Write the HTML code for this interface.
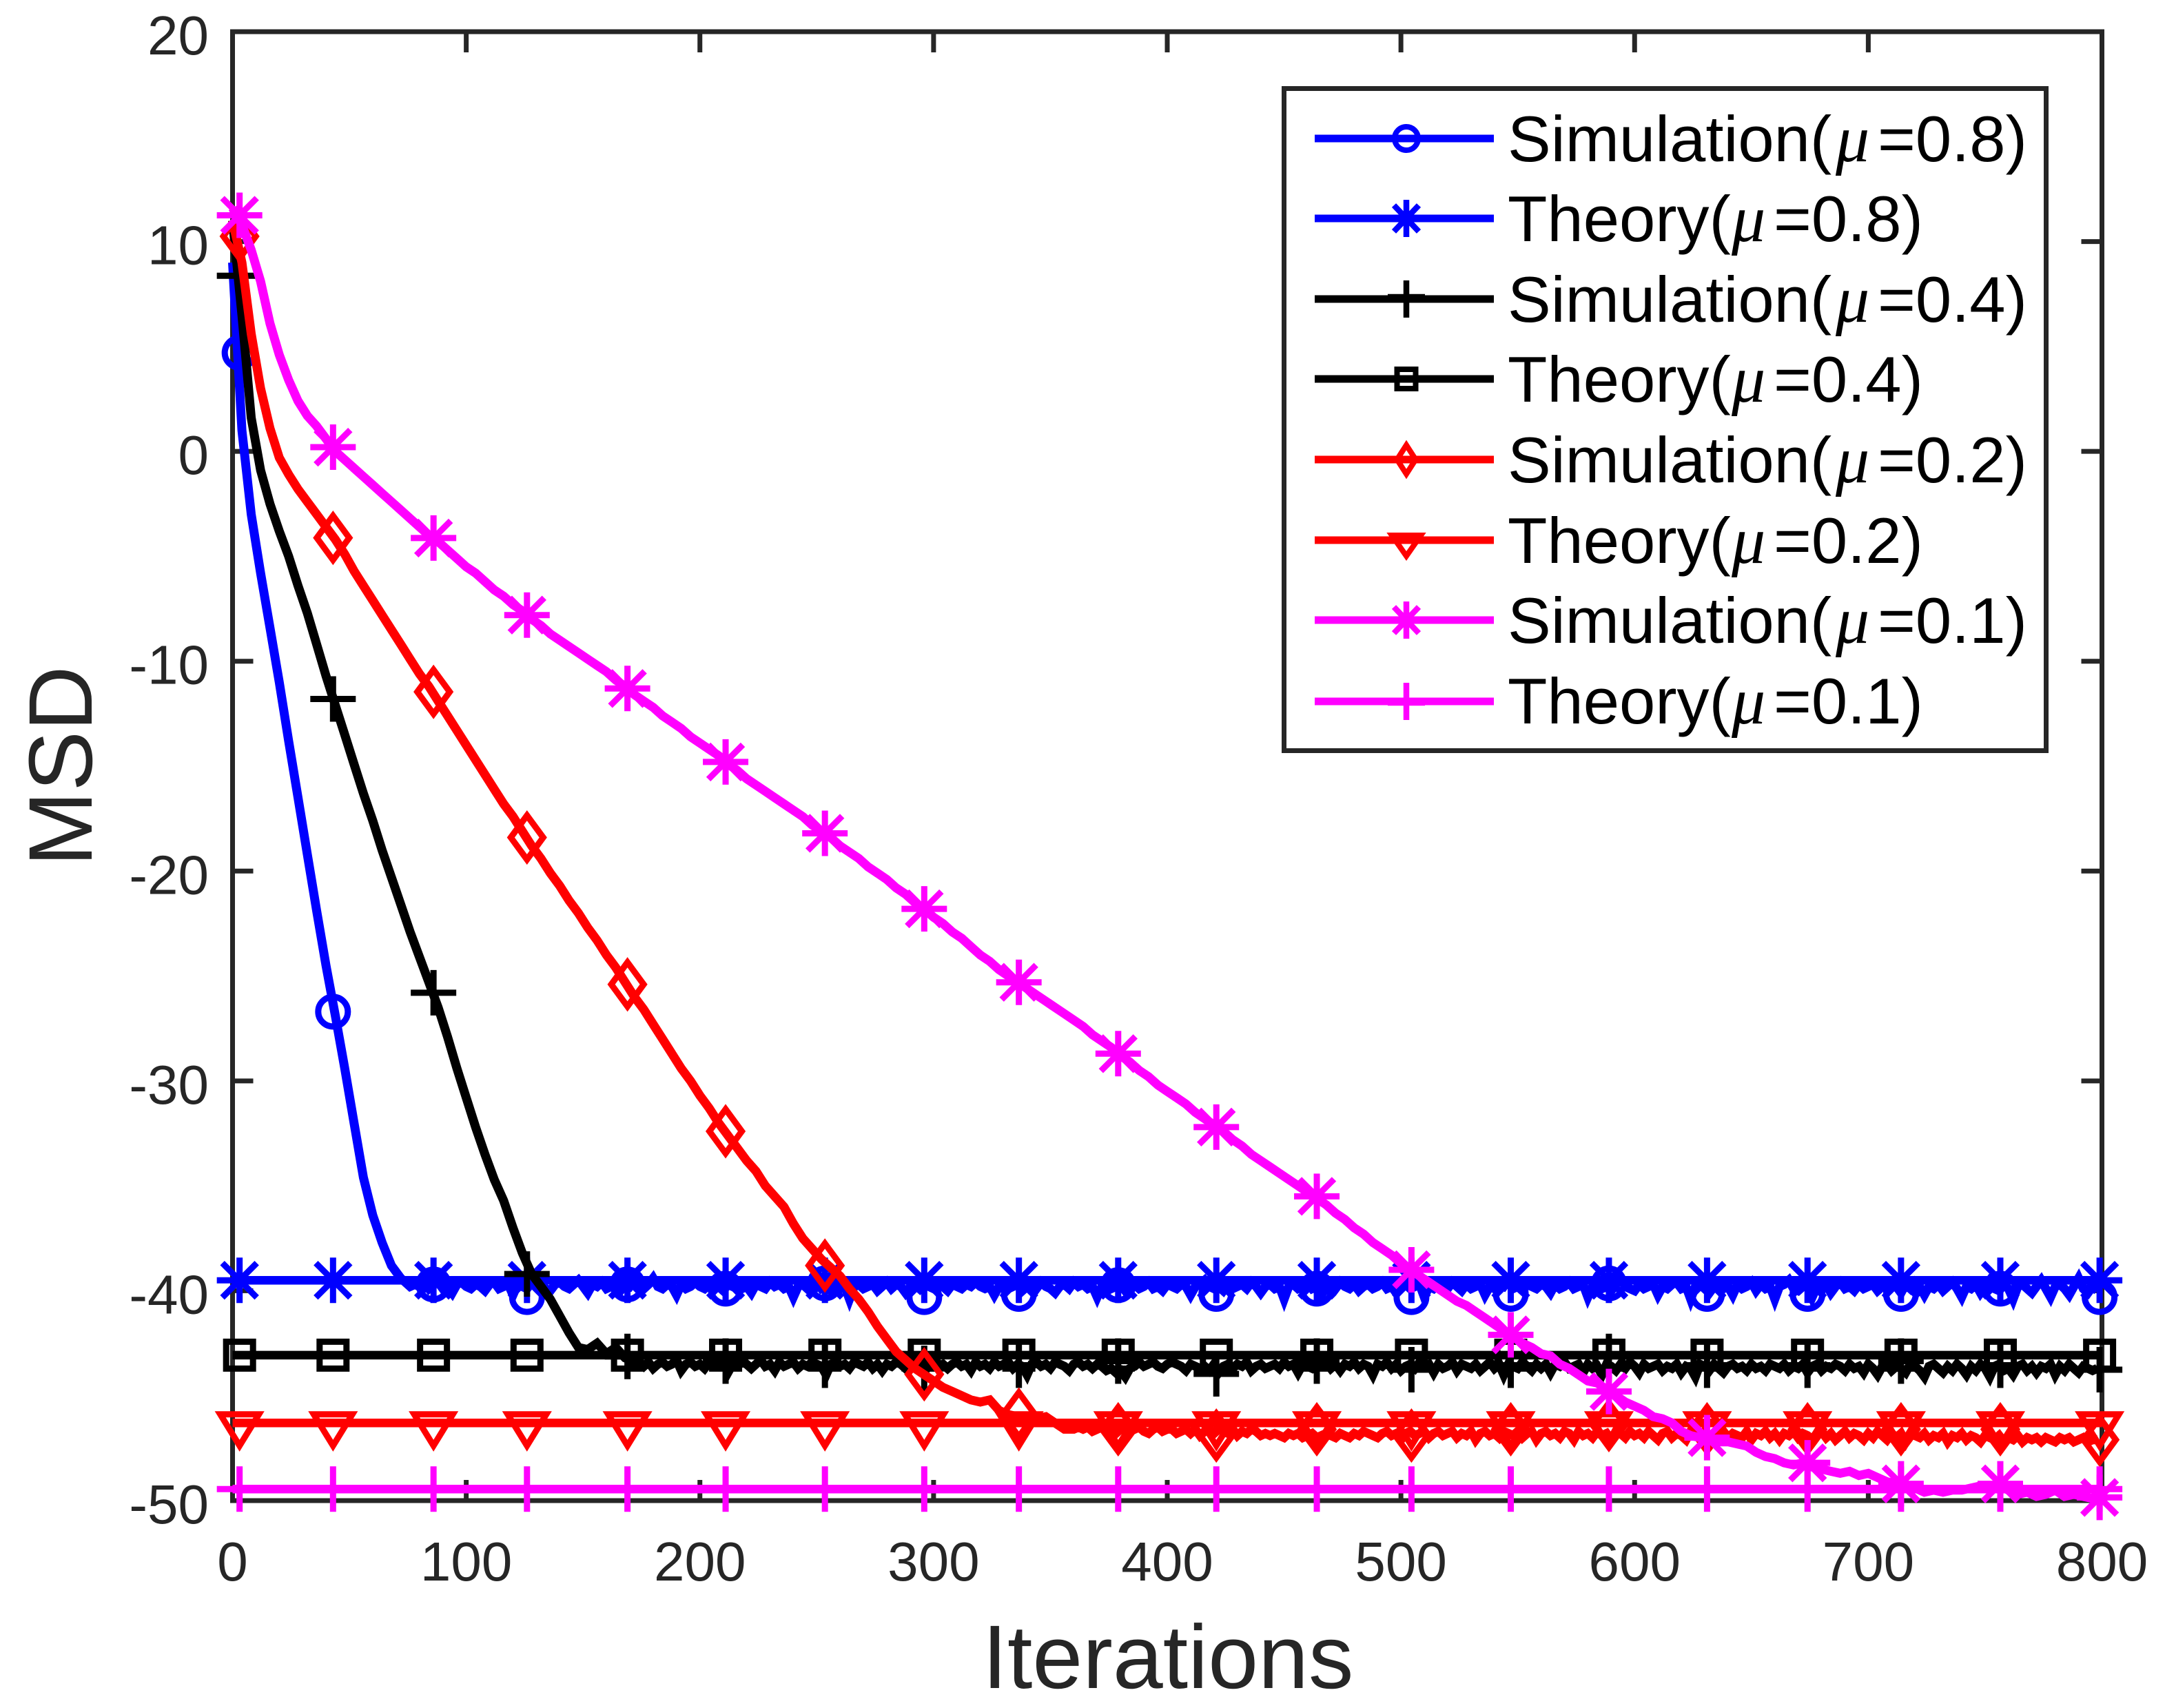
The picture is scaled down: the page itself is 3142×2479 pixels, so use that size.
<!DOCTYPE html>
<html lang="en">
<head>
<meta charset="utf-8">
<title>MSD vs Iterations</title>
<style>
html,body{margin:0;padding:0;background:#fff;}
svg{display:block;}
text{font-family:"Liberation Sans",sans-serif;}
.leg{font-size:94px;fill:#000;}
.mu{font-family:"Liberation Serif",serif;font-style:italic;font-size:98px;}
</style>
</head>
<body>
<svg id="chart" xmlns="http://www.w3.org/2000/svg" width="3142" height="2479" viewBox="0 0 3142 2479">
  <rect x="0" y="0" width="3142" height="2479" fill="#fff"/>
  <g id="axes"></g>
  <g id="series"></g>
  <text x="1695" y="2450" font-size="131" fill="#262626" text-anchor="middle">Iterations</text>
  <text transform="translate(133 1112) rotate(-90)" font-size="131" fill="#262626" text-anchor="middle">MSD</text>
  <g>
    <rect x="1863.5" y="128.5" width="1106" height="961" fill="#fff" stroke="#262626" stroke-width="7"/>
    <g fill="none" stroke="#0000ff">
      <line x1="1908" x2="2168" y1="201" y2="201" stroke-width="11"/>
      <circle cx="2041" cy="201" r="17" stroke-width="8"/>
    </g>
    <text class="leg" y="234"><tspan x="2188">Simulation(</tspan><tspan x="2664" class="mu">μ</tspan><tspan x="2725">=0.8)</tspan></text>
    <g fill="none" stroke="#0000ff">
      <line x1="1908" x2="2168" y1="317" y2="317" stroke-width="11"/>
      <path d="M2041 290V344M2023 298L2059 336M2059 298L2023 336" stroke-width="8.5"/>
    </g>
    <text class="leg" y="350"><tspan x="2188">Theory(</tspan><tspan x="2513" class="mu">μ</tspan><tspan x="2574">=0.8)</tspan></text>
    <g fill="none" stroke="#000">
      <line x1="1908" x2="2168" y1="434" y2="434" stroke-width="11"/>
      <path d="M2041 407V461M2014 431H2068" stroke-width="8.5"/>
    </g>
    <text class="leg" y="467"><tspan x="2188">Simulation(</tspan><tspan x="2664" class="mu">μ</tspan><tspan x="2725">=0.4)</tspan></text>
    <g fill="none" stroke="#000">
      <line x1="1908" x2="2168" y1="550" y2="550" stroke-width="11"/>
      <rect x="2027.5" y="536" width="27" height="28" stroke-width="8"/>
    </g>
    <text class="leg" y="583"><tspan x="2188">Theory(</tspan><tspan x="2513" class="mu">μ</tspan><tspan x="2574">=0.4)</tspan></text>
    <g fill="none" stroke="#ff0000">
      <line x1="1908" x2="2168" y1="667" y2="667" stroke-width="11"/>
      <path d="M2041 646L2054.5 667L2041 688L2027.5 667Z" stroke-width="8"/>
    </g>
    <text class="leg" y="700"><tspan x="2188">Simulation(</tspan><tspan x="2664" class="mu">μ</tspan><tspan x="2725">=0.2)</tspan></text>
    <g fill="none" stroke="#ff0000">
      <line x1="1908" x2="2168" y1="784" y2="784" stroke-width="11"/>
      <path d="M2020 777H2062L2041 807Z" stroke-width="8"/>
    </g>
    <text class="leg" y="817"><tspan x="2188">Theory(</tspan><tspan x="2513" class="mu">μ</tspan><tspan x="2574">=0.2)</tspan></text>
    <g fill="none" stroke="#ff00ff">
      <line x1="1908" x2="2168" y1="900" y2="900" stroke-width="11"/>
      <path d="M2041 873V927M2023 881L2059 919M2059 881L2023 919" stroke-width="8.5"/>
    </g>
    <text class="leg" y="933"><tspan x="2188">Simulation(</tspan><tspan x="2664" class="mu">μ</tspan><tspan x="2725">=0.1)</tspan></text>
    <g fill="none" stroke="#ff00ff">
      <line x1="1908" x2="2168" y1="1018" y2="1018" stroke-width="11"/>
      <path d="M2041 991V1045M2014 1020H2068" stroke-width="8.5"/>
    </g>
    <text class="leg" y="1050"><tspan x="2188">Theory(</tspan><tspan x="2513" class="mu">μ</tspan><tspan x="2574">=0.1)</tspan></text>
  </g>
</svg>
<script>
const xTickValues = [0,100,200,300,400,500,600,700,800];
const yTickValues = [20,10,0,-10,-20,-30,-40,-50];
const rampStep = 4;
const tailStep = 2;
const markerIters = [3,43,86,126,169,211,253.5,296,336.5,379,421,464,504.5,547,589,631,674,714,756.5,799];

const theoryLevel08 = -39.5;
const theoryLevel04 = -43.07;
const theoryLevel02 = -46.3;
const theoryLevel01 = -49.45;

const simMarkers08 = [4.7,-26.7,-39.7,-40.3,-39.7,-39.9,-39.65,-40.3,-40.15,-39.73,-40.15,-39.9,-40.3,-40.15,-39.65,-40.15,-40.15,-40.15,-39.9,-40.3];
const simMarkers04 = [8.37,-11.8,-25.8,-39.2,-43.13,-43.35,-43.55,-43.7,-43.55,-43.35,-43.96,-43.35,-43.76,-43.55,-43.13,-43.55,-43.55,-43.35,-43.55,-43.76];
const simMarkers02 = [10.25,-4.12,-11.46,-18.4,-25.4,-32.4,-38.8,-43.98,-45.9,-46.6,-46.9,-46.6,-46.9,-46.6,-46.4,-46.6,-46.6,-46.6,-46.6,-47.1];
const simMarkers01 = [11.25,0.2,-4.13,-7.8,-11.3,-14.8,-18.2,-21.8,-25.3,-28.7,-32.2,-35.5,-39,-42.1,-44.8,-47,-48.2,-49.2,-49.2,-49.85];

const simRamp08 = [
9,1,-3,-5.8,-8.4,-11,-13.8,-16.5,-19.2,-21.9,
-24.5,-26.9,-29.4,-32,-34.6,-36.4,-37.7,-38.8,-39.4,-39.8
];
const simTail08 = [
-39.7,-39.8,-39.6,-39.9,-39.7,-39.6,-39.9,-39.8,-40.1,-39.7,-39.6,-39.8,-39.9,-39.7,-39.8,-40.0,-39.7,-39.6,-39.9,-39.8,
-39.7,-40.2,-39.7,-39.8,-39.9,-39.6,-39.8,-39.7,-39.9,-40.0,-39.7,-39.6,-39.8,-39.9,-39.7,-39.5,-39.8,-40.1,-39.7,-39.8,
-39.6,-39.9,-39.8,-39.7,-40.0,-39.7,-39.8,-39.5,-39.8,-39.9,-39.7,-39.4,-39.8,-39.9,-39.7,-39.8,-40.2,-39.7,-39.9,-39.8,
-39.6,-39.8,-39.9,-39.7,-39.5,-39.8,-40.0,-39.7,-39.8,-39.6,-39.9,-39.8,-40.1,-39.7,-39.8,-39.9,-39.6,-39.8,-39.7,-39.9,
-39.8,-40.3,-39.8,-39.7,-39.9,-39.8,-39.6,-39.9,-39.8,-40.0,-39.7,-39.9,-39.8,-40.4,-39.8,-39.7,-39.9,-39.8,-39.7,-40.0,
-39.8,-39.6,-39.9,-39.7,-39.8,-40.1,-39.8,-39.7,-39.9,-39.6,-39.8,-39.9,-39.7,-39.8,-40.0,-39.7,-39.8,-39.9,-39.7,-39.8,
-39.6,-39.8,-39.9,-39.8,-40.2,-39.8,-39.7,-39.9,-39.8,-39.7,-40.0,-39.8,-39.7,-39.9,-39.6,-39.8,-39.9,-40.1,-39.8,-39.7,
-39.9,-39.6,-39.8,-39.7,-39.9,-39.8,-40.3,-39.8,-39.7,-39.9,-39.8,-39.7,-40.0,-39.8,-39.7,-39.9,-39.8,-39.6,-39.9,-39.8,
-40.0,-39.7,-39.8,-39.9,-39.7,-39.8,-40.2,-39.8,-39.7,-39.5,-39.8,-39.9,-39.8,-40.0,-39.7,-39.9,-39.8,-39.7,-39.9,-39.6,
-39.8,-40.1,-39.8,-39.7,-39.9,-39.8,-40.4,-39.8,-39.7,-39.9,-39.8,-39.6,-39.9,-39.8,-40.2,-39.8,-39.7,-39.9,-39.6,-39.8,
-39.9,-39.7,-40.0,-39.8,-39.7,-39.9,-39.8,-39.6,-39.9,-39.8,-40.1,-39.8,-39.7,-39.9,-39.8,-39.7,-40.3,-39.8,-39.9,-39.7,
-39.8,-39.9,-39.6,-39.8,-40.0,-39.7,-39.9,-39.8,-39.7,-40.2,-39.8,-39.9,-39.7,-39.8,-39.5,-39.9,-39.8,-40.0,-39.7,-39.8,
-39.9,-39.7,-39.8,-40.1,-39.7,-39.9,-39.8,-39.6,-39.9,-39.8,-39.7,-40.3,-39.8,-39.7,-39.9,-39.8,-40.0,-39.7,-39.4,-39.8,
-39.9,-40.0,-39.7,-39.9,-39.8,-39.7,-40.2,-39.8,-39.9,-39.7,-39.6,-39.9,-39.8,-40.4,-39.8,-39.7,-39.9,-40.1,-39.8,-39.6,
-39.9,-39.8,-40.2,-39.7,-39.9,-39.8,-39.6,-40.0,-39.7,-39.9,-39.8,-40.4,-39.8,-39.7,-39.5,-39.9,-40.0,-39.8,-39.7,-40.3,
-39.8,-39.9,-39.7,-40.1,-39.8,-39.6,-39.9,-39.8,-40.0,-39.7,-39.9,-39.8,-39.7,-40.0,-39.8,-39.9,-39.7,-39.8,-40.1,-39.7,
-39.9,-39.6,-39.8,-40.2,-39.8,-39.9,-39.7,-40.0,-39.8,-39.6,-39.9,-40.3,-39.8,-39.9,-39.7,-40.1,-39.8,-39.5,-39.9,-40.0,
-39.7,-39.9,-40.4,-39.8,-39.7,-39.9,-40.1,-39.8,-39.5,-39.9,-40.3,-39.8,-39.7,-39.9,-40.2,-39.8,-39.4,-39.9,-40.1,-39.8,
-40.0
];

const simRamp04 = [
11,6.5,1.6,-0.9,-2.5,-3.8,-5,-6.4,-7.7,-9.2,
-10.7,-12.1,-13.5,-14.9,-16.3,-17.6,-19,-20.3,-21.6,-22.9,
-24.1,-25.3,-26.5,-27.9,-29.4,-30.8,-32.2,-33.5,-34.7,-35.7,
-37,-38.2,-39.2,-39.8,-40.4,-41.2,-42,-42.7,-42.8,-42.5,
-43,-42.7,-43.2
];
const simTail04 = [
-43.3,-43.5,-43.4,-43.6,-43.4,-43.7,-43.5,-43.4,-43.6,-43.5,-43.3,-43.8,-43.5,-43.4,-43.6,-43.5,-43.7,-43.4,-43.5,-43.6,
-43.4,-43.9,-43.5,-43.6,-43.4,-43.5,-43.7,-43.5,-43.3,-43.6,-43.5,-43.8,-43.4,-43.6,-43.5,-43.4,-43.7,-43.5,-43.6,-43.4,
-43.5,-43.6,-44.0,-43.5,-43.4,-43.6,-43.5,-43.7,-43.4,-43.5,-43.6,-43.4,-43.7,-43.5,-43.8,-43.5,-43.6,-43.4,-43.5,-43.7,
-43.5,-43.4,-43.6,-43.9,-43.5,-43.4,-43.6,-43.5,-43.7,-43.5,-43.4,-43.6,-43.5,-43.8,-43.4,-43.6,-43.5,-43.7,-43.4,-43.6,
-43.5,-43.4,-43.7,-43.5,-43.6,-44.0,-43.5,-43.4,-43.6,-43.5,-43.7,-43.4,-43.5,-43.6,-43.8,-43.5,-43.4,-43.6,-43.5,-43.7,
-43.5,-43.6,-43.8,-43.7,-43.9,-43.8,-44.1,-43.7,-43.6,-43.4,-43.6,-43.5,-43.4,-43.6,-43.7,-43.5,-43.4,-43.5,-43.6,-43.8,
-43.5,-43.6,-43.7,-43.6,-43.8,-43.5,-43.9,-43.6,-43.5,-43.7,-43.5,-43.6,-43.4,-43.8,-43.6,-43.5,-43.7,-43.6,-43.5,-43.7,
-43.4,-43.6,-43.5,-43.9,-43.5,-43.6,-43.7,-43.5,-43.6,-43.4,-43.7,-43.5,-43.8,-43.5,-43.6,-43.4,-43.7,-43.5,-43.6,-44.0,
-43.5,-43.6,-43.4,-43.7,-43.5,-43.8,-43.6,-43.5,-43.7,-43.4,-43.6,-43.5,-43.9,-43.5,-43.7,-43.6,-43.4,-43.8,-43.5,-43.6,
-43.7,-43.5,-43.8,-43.6,-43.4,-43.7,-43.5,-44.0,-43.5,-43.6,-43.7,-43.4,-43.6,-43.8,-43.5,-43.7,-43.5,-43.9,-43.5,-43.6,
-43.4,-43.7,-43.6,-43.5,-43.9,-43.5,-43.7,-43.6,-44.0,-43.5,-43.6,-43.8,-43.5,-43.7,-43.4,-43.6,-43.9,-43.5,-43.7,-43.6,
-43.5,-43.8,-43.6,-43.7,-43.5,-43.9,-43.6,-43.7,-44.1,-43.5,-43.6,-43.8,-43.5,-43.7,-43.9,-43.6,-43.5,-43.7,-43.6,-43.8,
-43.5,-43.7,-43.6,-43.8,-43.5,-43.6,-43.7,-43.5,-43.8,-43.6,-43.7,-43.5,-43.9,-43.6,-43.5,-43.8,-43.6,-43.7,-43.5,-43.6,
-43.8,-43.5,-43.7,-43.6,-43.9,-43.5,-43.7,-44.0,-43.6,-43.5,-43.8,-43.6,-43.7,-43.9,-43.5,-43.6,-43.8,-44.1,-43.6,-43.5,
-43.7,-43.9,-43.6,-43.8,-43.5,-43.7,-44.0,-43.6,-43.8,-43.5,-43.7,-44.1,-43.6,-43.5,-43.8,-43.7,-44.0,-43.6,-43.5,-43.8,
-43.6,-43.9,-43.6,-43.7,-43.5,-44.0,-43.6,-43.8,-43.5,-43.7,-43.9,-43.6,-43.7,-43.8,-43.7
];

const simRamp02 = [
11,9,5.6,3,1.1,-0.3,-1.1,-1.8,-2.4,-3,
-3.6,-4.2,-4.9,-5.7,-6.4,-7.1,-7.8,-8.5,-9.2,-9.9,
-10.6,-11.2,-11.9,-12.6,-13.3,-14,-14.7,-15.4,-16.1,-16.8,
-17.4,-18.1,-18.8,-19.4,-20.1,-20.7,-21.4,-22,-22.7,-23.3,
-24,-24.6,-25.3,-26,-26.6,-27.3,-28,-28.7,-29.4,-30,
-30.7,-31.3,-32,-32.6,-33.2,-33.8,-34.3,-35,-35.5,-36,
-36.8,-37.5,-38,-38.5,-38.9,-39.3,-39.9,-40.4,-41,-41.7,
-42.3,-42.9,-43.3,-43.7,-44,-44.3,-44.6,-44.8,-45,-45.2,
-45.3,-45.2,-45.7,-45.9,-46,-46.1,-46.1,-46,-46.3,-46.6,
-46.6
];
const simTail02 = [
-46.5,-46.6,-46.5,-46.7,-46.6,-46.5,-46.7,-46.6,-46.8,-46.6,-46.5,-46.7,-46.6,-46.5,-46.7,-46.8,-46.6,-46.5,-46.7,-46.6,
-46.6,-46.8,-46.7,-46.6,-46.8,-46.6,-46.9,-46.7,-46.6,-46.8,-46.6,-46.7,-46.8,-46.6,-46.9,-46.7,-46.8,-46.6,-46.7,-46.9,
-46.8,-46.9,-46.8,-46.9,-47.0,-46.8,-46.9,-46.8,-47.0,-46.9,-46.8,-47.0,-46.9,-46.8,-46.9,-47.0,-46.8,-46.9,-47.0,-46.8,
-46.9,-46.7,-46.8,-46.9,-47.0,-46.8,-46.7,-46.9,-46.8,-47.1,-46.8,-46.7,-46.9,-46.8,-46.7,-47.0,-46.8,-46.7,-46.9,-46.8,
-46.7,-47.0,-46.8,-46.9,-46.7,-47.1,-46.8,-46.7,-46.9,-46.8,-47.0,-46.7,-46.8,-46.9,-46.7,-47.0,-46.8,-46.7,-47.1,-46.8,
-46.7,-46.9,-46.8,-47.0,-46.7,-46.8,-47.1,-46.7,-46.9,-46.8,-47.0,-46.7,-46.9,-46.8,-47.1,-46.7,-46.8,-47.0,-46.7,-46.9,
-46.8,-47.0,-46.7,-46.9,-47.1,-46.8,-46.7,-47.0,-46.8,-46.9,-47.1,-46.7,-46.8,-47.0,-46.7,-46.9,-47.1,-46.8,-46.7,-47.0,
-46.8,-46.9,-47.0,-46.7,-47.1,-46.8,-46.9,-46.7,-47.0,-46.8,-47.1,-46.8,-46.9,-46.7,-47.0,-46.8,-46.9,-47.1,-46.8,-46.7,
-47.0,-46.8,-47.1,-46.9,-46.7,-47.0,-46.8,-46.9,-47.1,-46.8,-47.0,-46.7,-46.9,-47.1,-46.8,-47.0,-46.8,-47.2,-46.8,-46.9,
-47.0,-46.8,-47.1,-46.9,-47.0,-46.8,-47.2,-46.9,-47.0,-46.8,-47.1,-46.9,-47.0,-47.2,-46.9,-47.0,-47.1,-46.9,-47.2,-47.0,
-47.1,-46.9,-47.2,-47.0,-47.1,-47.0,-47.2,-47.0,-47.1,-47.2,-47.0,-47.1,-47.0,-47.2,-47.1,-47.0,-47.2,-47.1,-47.1
];

const simRamp01 = [
11.6,10.8,9.6,8.1,6.1,4.6,3.4,2.4,1.7,1.2,
0.6,0,-0.4,-0.8,-1.2,-1.6,-2,-2.4,-2.8,-3.2,
-3.6,-4,-4.3,-4.7,-5.1,-5.5,-5.8,-6.2,-6.6,-6.9,
-7.3,-7.6,-8,-8.3,-8.7,-9,-9.3,-9.6,-9.9,-10.2,
-10.5,-10.9,-11.2,-11.6,-11.9,-12.2,-12.6,-12.9,-13.2,-13.6,
-13.9,-14.2,-14.5,-14.9,-15.2,-15.6,-15.9,-16.2,-16.5,-16.8,
-17.1,-17.4,-17.8,-18.1,-18.4,-18.8,-19.1,-19.4,-19.8,-20.1,
-20.4,-20.8,-21.1,-21.5,-21.8,-22.2,-22.5,-22.9,-23.2,-23.6,
-24,-24.3,-24.7,-25,-25.3,-25.6,-25.9,-26.2,-26.5,-26.8,
-27.1,-27.4,-27.8,-28.1,-28.4,-28.8,-29.1,-29.5,-29.8,-30.2,
-30.5,-30.8,-31.1,-31.5,-31.8,-32.1,-32.4,-32.8,-33.1,-33.5,
-33.8,-34.1,-34.4,-34.7,-35,-35.3,-35.6,-35.9,-36.3,-36.6,
-37,-37.3,-37.7,-38,-38.3,-38.7,-39,-39.3,-39.6,-39.9,
-40.2,-40.5,-40.7,-41,-41.3,-41.6,-41.9,-42.2,-42.5,-42.7,
-43,-43.1,-43.5,-43.7,-44,-44.3,-44.4,-44.7,-45,-45.3,
-45.5,-45.7,-46,-46.1,-46.3,-46.7,-46.9,-47,-47.1,-47.2,
-47.2,-47.3,-47.4,-47.7,-47.9,-48,-48.2,-48.3,-48.2,-48.4,
-48.5,-48.6,-48.7,-48.6,-48.8,-48.7,-48.9,-49.1,-49.2,-49.3,
-49.4,-49.6,-49.5,-49.6,-49.5,-49.5,-49.4,-49.3,-49.4,-49.3,
-49.5,-49.7,-49.6,-49.8,-49.7,-49.5,-49.8,-49.7,-49.8,-49.9,
-50
];
const simTail01 = [];

const NS = 'http://www.w3.org/2000/svg';
const INK = '#262626';
const xScale = v => 337.5 + (v - 0) * (3050.5 - 337.5) / (800 - 0);
const yScale = v => 46 + (20 - v) * (2178 - 46) / (20 - (-50));

function make(tag, attrs, parent) {
  const el = document.createElementNS(NS, tag);
  for (const k in attrs) el.setAttribute(k, attrs[k]);
  parent.appendChild(el);
  return el;
}

const axesLayer = document.getElementById('axes');
const seriesLayer = document.getElementById('series');

const plotFrame = make('rect', {x: xScale(0), y: yScale(20), width: xScale(800) - xScale(0), height: yScale(-50) - yScale(20), fill: 'none', stroke: INK, 'stroke-width': 7}, axesLayer);



xTickValues.forEach(v => {
  const bottom = make('line', {x1: xScale(v), x2: xScale(v), y1: yScale(-50), y2: yScale(-50) - 30, stroke: INK, 'stroke-width': 7}, axesLayer);
  
  
  const top = make('line', {x1: xScale(v), x2: xScale(v), y1: yScale(20), y2: yScale(20) + 30, stroke: INK, 'stroke-width': 7}, axesLayer);
  
  
  const label = make('text', {x: xScale(v), y: 2294, 'font-size': 80, fill: INK, 'text-anchor': 'middle'}, axesLayer);
  label.textContent = String(v);
  
  
});

yTickValues.forEach(v => {
  const left = make('line', {x1: xScale(0), x2: xScale(0) + 30, y1: yScale(v), y2: yScale(v), stroke: INK, 'stroke-width': 7}, axesLayer);
  
  
  const right = make('line', {x1: xScale(800), x2: xScale(800) - 30, y1: yScale(v), y2: yScale(v), stroke: INK, 'stroke-width': 7}, axesLayer);
  
  
  const label = make('text', {x: 303, y: yScale(v) + 33, 'font-size': 80, fill: INK, 'text-anchor': 'end'}, axesLayer);
  label.textContent = String(v);
  
  
});

const markerShapes = {
  circle: 'M-21.5 0A21.5 21.5 0 1 0 21.5 0A21.5 21.5 0 1 0 -21.5 0Z',
  star: 'M0 -33V33M-33 0H33M-25 -25L25 25M25 -25L-25 25',
  plus: 'M0 -33V33M-33 0H33',
  square: 'M-19.5 -19.5H19.5V19.5H-19.5Z',
  diamond: 'M0 -32L23.5 0L0 32L-23.5 0Z',
  triangle: 'M-28 -12.5H28L0 33Z'
};

function drawMarkers(shape, colour, values, group) {
  markerIters.forEach((it, i) => {
    const mark = make('path', {d: markerShapes[shape], transform: 'translate(' + xScale(it) + ' ' + yScale(values[i]) + ')', fill: 'none', stroke: colour, 'stroke-width': 9}, group);
    
    
  });
}

function drawSim(ramp, tail, colour, shape, markerValues, name) {
  const group = make('g', {}, seriesLayer);
  
  
  const rampPts = ramp.map((v, i) => xScale(i * rampStep).toFixed(1) + ',' + yScale(v).toFixed(1));
  const tailStart = (ramp.length - 1) * rampStep + tailStep;
  const tailPts = tail.map((v, i) => xScale(tailStart + i * tailStep).toFixed(1) + ',' + yScale(v).toFixed(1));
  const line = make('polyline', {points: rampPts.concat(tailPts).join(' '), fill: 'none', stroke: colour, 'stroke-width': 13, 'stroke-linejoin': 'miter', 'stroke-miterlimit': 10}, group);
  
  
  drawMarkers(shape, colour, markerValues, group);
}

function drawTheory(level, colour, shape, name) {
  const group = make('g', {}, seriesLayer);
  
  
  const line = make('line', {x1: xScale(0), x2: xScale(800), y1: yScale(level), y2: yScale(level), stroke: colour, 'stroke-width': 12.5}, group);
  
  
  drawMarkers(shape, colour, markerIters.map(() => level), group);
}

drawSim(simRamp08, simTail08, '#0000ff', 'circle', simMarkers08, 'simulation-mu-0.8');
drawTheory(theoryLevel08, '#0000ff', 'star', 'theory-mu-0.8');
drawSim(simRamp04, simTail04, '#000000', 'plus', simMarkers04, 'simulation-mu-0.4');
drawTheory(theoryLevel04, '#000000', 'square', 'theory-mu-0.4');
drawSim(simRamp02, simTail02, '#ff0000', 'diamond', simMarkers02, 'simulation-mu-0.2');
drawTheory(theoryLevel02, '#ff0000', 'triangle', 'theory-mu-0.2');
drawSim(simRamp01, simTail01, '#ff00ff', 'star', simMarkers01, 'simulation-mu-0.1');
drawTheory(theoryLevel01, '#ff00ff', 'plus', 'theory-mu-0.1');
</script>
</body>
</html>
